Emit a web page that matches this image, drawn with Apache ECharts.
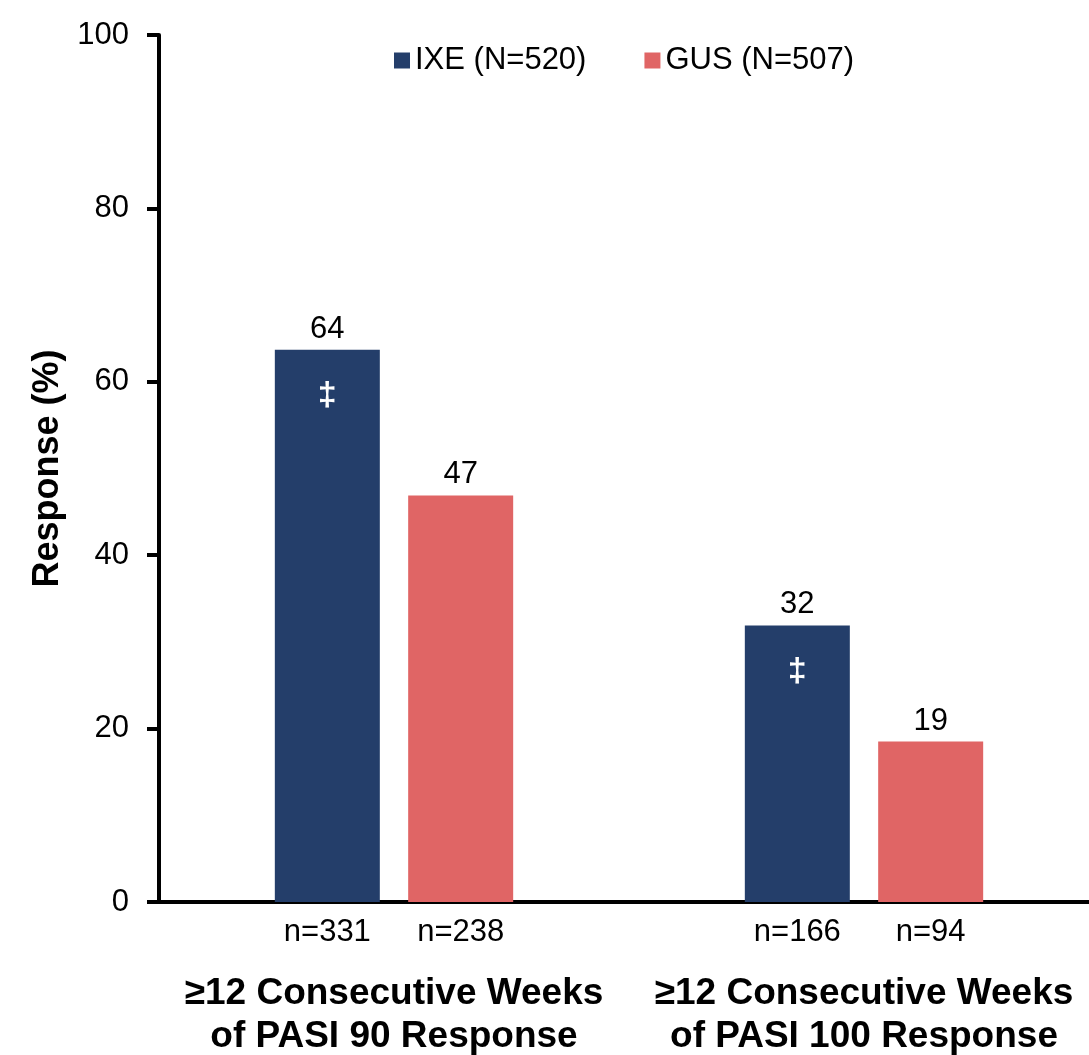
<!DOCTYPE html>
<html>
<head>
<meta charset="utf-8">
<script src="https://cdn.jsdelivr.net/npm/echarts@6/dist/echarts.min.js"></script>
<style>
html,body{margin:0;padding:0;background:#fff;}
#chart{width:1089px;height:1055px;}
</style>
</head>
<body>
<div id="chart"></div>
<script>
const categories = ['≥12 Consecutive Weeks\nof PASI 90 Response', '≥12 Consecutive Weeks\nof PASI 100 Response'];
const seriesNames = ['IXE (N=520)', 'GUS (N=507)'];
const ixeValues = [63.7, 31.9];
const gusValues = [46.9, 18.5];
const ixeLabels = ['64', '32'];
const gusLabels = ['47', '19'];
const ixeN = ['n=331', 'n=166'];
const gusN = ['n=238', 'n=94'];
const ixeSymbol = ['‡', '‡'];
const yTicks = [0, 20, 40, 60, 80, 100];

const FONT = 'Liberation Sans, Arial, sans-serif';
const NAVY = '#243E6A';
const CORAL = '#E06565';

function zeros(arr) { return arr.map(() => 0); }

function groupSeries(stack, name, values, color, topLabels, nLabels, insideLabels) {
  const list = [];
  list.push({
    type: 'bar', stack: stack, stackStrategy: 'all', name: name + '_n',
    data: zeros(values), barWidth: 105, barGap: '27%', itemStyle: { color: 'rgba(0,0,0,0)' },
    label: {
      show: true, position: 'bottom', distance: 15,
      fontFamily: FONT, fontSize: 31, color: '#000',
      formatter: p => nLabels[p.dataIndex]
    },
    silent: true
  });
  list.push({
    type: 'bar', stack: stack, stackStrategy: 'all', name: name,
    data: values, barWidth: 105, barGap: '27%', itemStyle: { color: color },
    label: insideLabels ? {
      show: true, position: 'insideTop', distance: 29,
      fontFamily: FONT, fontSize: 34, fontWeight: 'bold', color: '#fff',
      formatter: p => insideLabels[p.dataIndex]
    } : { show: false }
  });
  list.push({
    type: 'bar', stack: stack, stackStrategy: 'all', name: name + '_v',
    data: zeros(values), barWidth: 105, barGap: '27%', itemStyle: { color: 'rgba(0,0,0,0)' },
    label: {
      show: true, position: 'top', distance: 5,
      fontFamily: FONT, fontSize: 31, color: '#000',
      formatter: p => topLabels[p.dataIndex]
    },
    silent: true
  });
  return list;
}

const chart = echarts.init(document.getElementById('chart'), null, { renderer: 'canvas' });
chart.setOption({
  animation: false,
  backgroundColor: '#fff',
  textStyle: { fontFamily: FONT },
  legend: {
    data: seriesNames,
    left: 389, top: 40,
    icon: 'rect', itemWidth: 16, itemHeight: 16, itemGap: 58,
    textStyle: { fontFamily: FONT, fontSize: 31, color: '#000' }
  },
  grid: { left: 159, top: 35, bottom: 153, width: 940, containLabel: false, outerBoundsMode: 'none' },
  xAxis: {
    type: 'category', data: categories,
    axisLine: { lineStyle: { color: '#000', width: 4 } },
    axisTick: { show: false },
    axisLabel: {
      margin: 70, interval: 0,
      fontFamily: FONT, fontSize: 37, fontWeight: 'bold', color: '#000', lineHeight: 43
    }
  },
  yAxis: {
    type: 'value', min: 0, max: 100, interval: 20,
    name: 'Response (%)', nameLocation: 'middle', nameGap: 76, nameRotate: 90,
    nameTextStyle: { fontFamily: FONT, fontSize: 36, fontWeight: 'bold', color: '#000' },
    axisLine: { show: true, lineStyle: { color: '#000', width: 4 } },
    axisTick: { show: true, length: 12, lineStyle: { color: '#000', width: 4 } },
    axisLabel: { margin: 30, fontFamily: FONT, fontSize: 31, color: '#000',
      formatter: v => yTicks.includes(v) ? String(v) : '' },
    splitLine: { show: false }
  },
  series: [
    ...groupSeries('ixe', seriesNames[0], ixeValues, NAVY, ixeLabels, ixeN, ixeSymbol),
    ...groupSeries('gus', seriesNames[1], gusValues, CORAL, gusLabels, gusN, null)
  ]
});
</script>
</body>
</html>
